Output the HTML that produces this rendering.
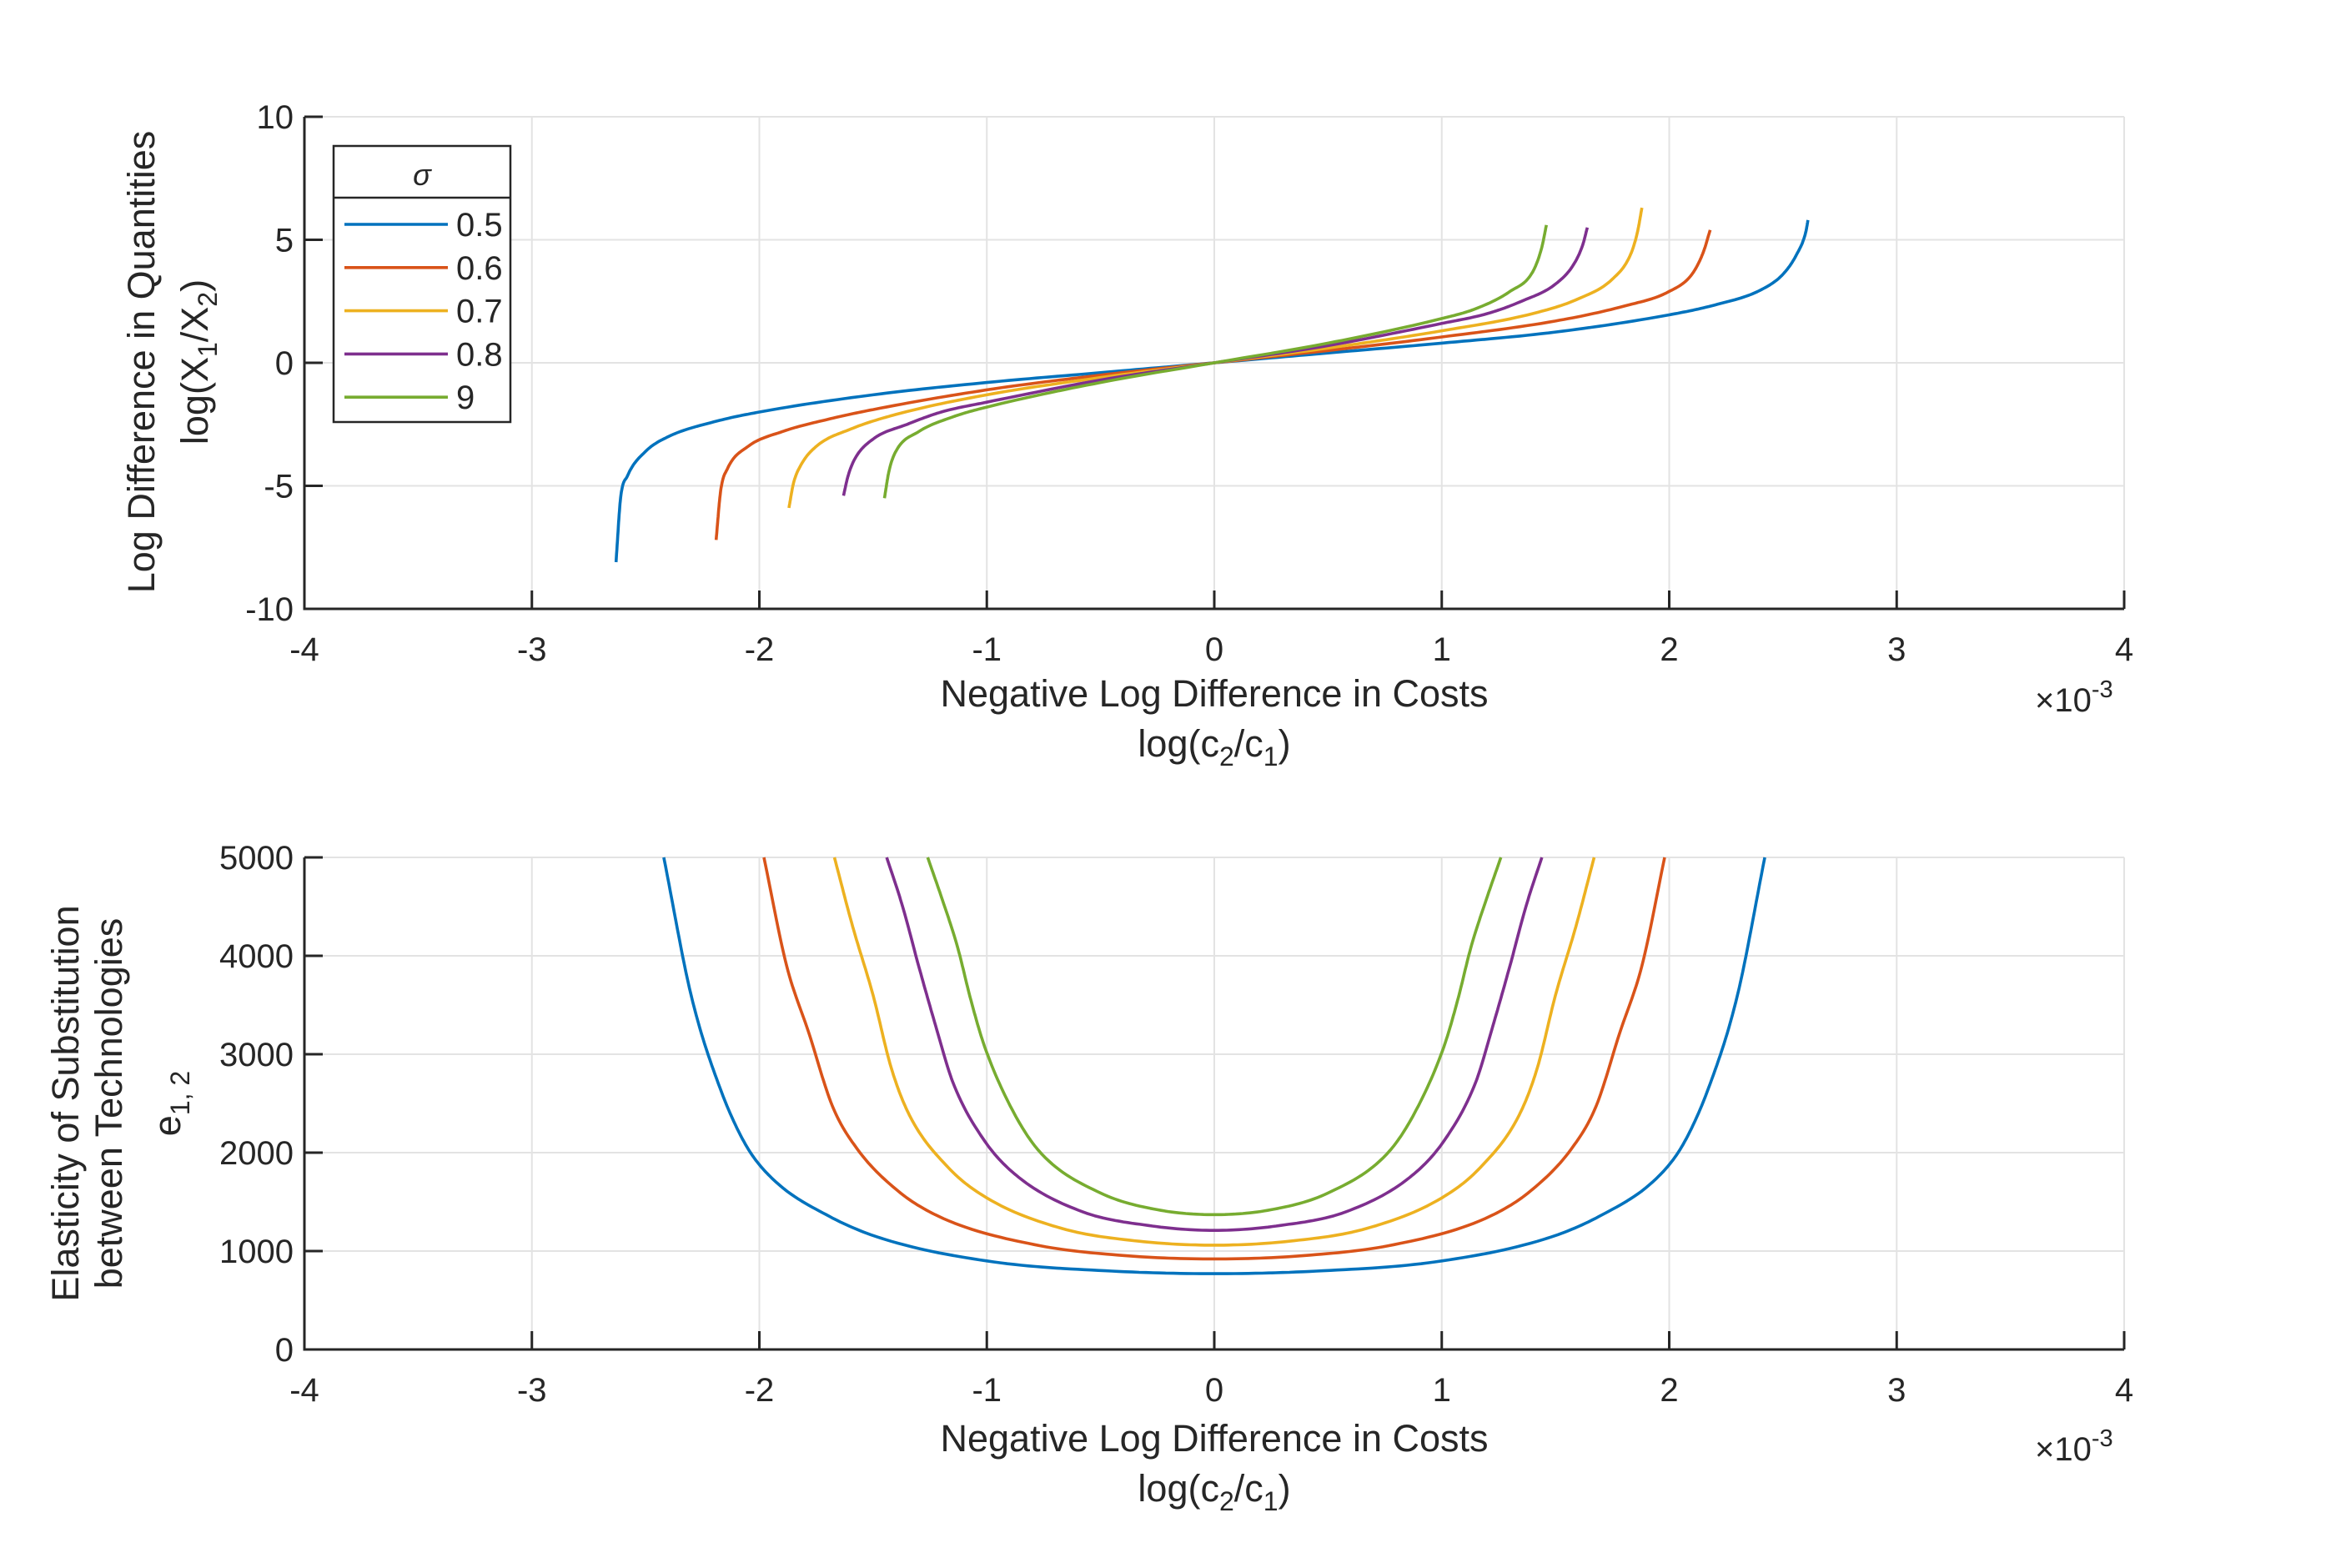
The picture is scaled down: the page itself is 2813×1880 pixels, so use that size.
<!DOCTYPE html>
<html><head><meta charset="utf-8"><style>
html,body{margin:0;padding:0;background:#fff}
svg text{font-family:"Liberation Sans",Arial,sans-serif;fill:#262626}
</style></head><body>
<svg id="fig" xmlns="http://www.w3.org/2000/svg" width="2813" height="1875" viewBox="0 0 2813 1875">
<rect width="2813" height="1875" fill="#fff"/>
<g id="top"></g>
<g id="bot"></g>
<text x="1456" y="847" font-size="45" text-anchor="middle">Negative Log Difference in Costs</text>
<text x="1456" y="907" font-size="45" text-anchor="middle">log(c<tspan font-size="32" dy="11">2</tspan><tspan dy="-11">/c</tspan><tspan font-size="32" dy="11">1</tspan><tspan dy="-11">)</tspan></text>
<text x="2440" y="853" font-size="40">×10<tspan font-size="29" dy="-17">-3</tspan></text>
<g transform="translate(185,434) rotate(-90)"><text x="0" y="0" font-size="45" text-anchor="middle">Log Difference in Quantities</text></g>
<g transform="translate(249,434) rotate(-90)"><text x="0" y="0" font-size="45" text-anchor="middle">log(X<tspan font-size="32" dy="11">1</tspan><tspan dy="-11">/X</tspan><tspan font-size="32" dy="11">2</tspan><tspan dy="-11">)</tspan></text></g>
<text x="1456" y="1740" font-size="45" text-anchor="middle">Negative Log Difference in Costs</text>
<text x="1456" y="1800" font-size="45" text-anchor="middle">log(c<tspan font-size="32" dy="11">2</tspan><tspan dy="-11">/c</tspan><tspan font-size="32" dy="11">1</tspan><tspan dy="-11">)</tspan></text>
<text x="2440" y="1751" font-size="40">×10<tspan font-size="29" dy="-17">-3</tspan></text>
<g transform="translate(94,1323) rotate(-90)"><text x="0" y="0" font-size="45" text-anchor="middle">Elasticity of Substitution</text></g>
<g transform="translate(146,1323) rotate(-90)"><text x="0" y="0" font-size="45" text-anchor="middle">between Technologies</text></g>
<g transform="translate(216,1323) rotate(-90)"><text x="0" y="0" font-size="45" text-anchor="middle">e<tspan font-size="32" dy="11">1, 2</tspan></text></g>
</svg>
<script>
const NS="http://www.w3.org/2000/svg";
const colors=["#0072BD","#D95319","#EDB120","#7E2F8E","#77AC30"];
const seriesNames=["0.5","0.6","0.7","0.8","9"];
const xTicks=[-4,-3,-2,-1,0,1,2,3,4];
const topYTicks=[-10,-5,0,5,10];
const botYTicks=[0,1000,2000,3000,4000,5000];

const topX=[
[-2.63,-2.61,-2.58,-2.5,-2.4,-2.2,-2.0,-1.5,-1.0,-0.5,0,0.5,1.0,1.5,2.0,2.2,2.4,2.5,2.56,2.6,2.61],
[-2.19,-2.17,-2.14,-2.05,-1.9,-1.7,-1.5,-1.0,-0.5,0,0.5,1.0,1.5,1.8,2.0,2.1,2.15,2.18],
[-1.87,-1.85,-1.82,-1.75,-1.6,-1.4,-1.0,-0.5,0,0.5,1.0,1.4,1.6,1.75,1.83,1.86,1.88],
[-1.63,-1.61,-1.58,-1.5,-1.35,-1.2,-1.0,-0.5,0,0.5,1.0,1.2,1.35,1.5,1.58,1.62,1.64],
[-1.45,-1.43,-1.4,-1.3,-1.15,-1.0,-0.5,0,0.5,1.0,1.15,1.3,1.4,1.44,1.46]];
const topY=[
[-8.1,-5.5,-4.6,-3.6,-3.0,-2.4,-2.0,-1.3,-0.8,-0.4,0,0.4,0.8,1.25,1.95,2.35,2.95,3.6,4.4,5.3,5.8],
[-7.2,-5.2,-4.3,-3.4,-2.8,-2.3,-1.9,-1.1,-0.5,0,0.5,1.05,1.7,2.3,2.9,3.6,4.5,5.4],
[-5.9,-4.9,-4.2,-3.4,-2.7,-2.1,-1.3,-0.6,0,0.6,1.3,2.0,2.6,3.4,4.4,5.3,6.3],
[-5.4,-4.6,-3.9,-3.1,-2.5,-2.0,-1.6,-0.7,0,0.7,1.6,2.0,2.5,3.2,4.0,4.8,5.5],
[-5.5,-4.4,-3.6,-2.8,-2.2,-1.8,-0.8,0,0.8,1.8,2.2,2.9,3.7,4.7,5.6]];

const botX=[
[-2.42,-2.3,-2.18,-2.06,-1.94,-1.69,-1.45,-0.97,-0.48,0,0.48,0.97,1.45,1.69,1.94,2.06,2.18,2.3,2.42],
[-1.98,-1.88,-1.78,-1.68,-1.58,-1.39,-1.19,-0.79,-0.4,0,0.4,0.79,1.19,1.39,1.58,1.68,1.78,1.88,1.98],
[-1.67,-1.59,-1.5,-1.42,-1.34,-1.17,-1.0,-0.67,-0.33,0,0.33,0.67,1.0,1.17,1.34,1.42,1.5,1.59,1.67],
[-1.44,-1.37,-1.3,-1.22,-1.15,-1.01,-0.86,-0.58,-0.29,0,0.29,0.58,0.86,1.01,1.15,1.22,1.3,1.37,1.44],
[-1.26,-1.2,-1.13,-1.07,-1.01,-0.88,-0.76,-0.5,-0.25,0,0.25,0.5,0.76,0.88,1.01,1.07,1.13,1.2,1.26]];
const botY=[
[5000,3600,2700,2080,1730,1350,1120,890,800,770,800,890,1120,1350,1730,2080,2700,3600,5000],
[5000,3900,3200,2480,2070,1610,1330,1065,955,920,955,1065,1330,1610,2070,2480,3200,3900,5000],
[5000,4300,3600,2860,2380,1850,1540,1230,1100,1060,1100,1230,1540,1850,2380,2860,3600,4300,5000],
[5000,4500,3900,3250,2720,2120,1750,1400,1260,1210,1260,1400,1750,2120,2720,3250,3900,4500,5000],
[5000,4600,4100,3550,3080,2400,1990,1590,1420,1370,1420,1590,1990,2400,3080,3550,4100,4600,5000]];

const L=365,R=2547;
function xs(v){return L+(v+4)/8*(R-L);}
function mk(tag,attrs,parent){const e=document.createElementNS(NS,tag);for(const k in attrs)e.setAttribute(k,attrs[k]);parent.appendChild(e);return e;}
function monoPath(X,Y,fx,fy){
  const n=X.length,d=[],m=new Array(n);
  for(let i=0;i<n-1;i++)d.push((Y[i+1]-Y[i])/(X[i+1]-X[i]));
  m[0]=d[0];m[n-1]=d[n-2];
  for(let i=1;i<n-1;i++){m[i]=(d[i-1]*d[i]<=0)?0:(d[i-1]+d[i])/2;}
  for(let i=0;i<n-1;i++){
    if(d[i]===0){m[i]=0;m[i+1]=0;continue;}
    const a=m[i]/d[i],b=m[i+1]/d[i],s=a*a+b*b;
    if(s>9){const t=3/Math.sqrt(s);m[i]=t*a*d[i];m[i+1]=t*b*d[i];}
  }
  let p="M"+fx(X[0]).toFixed(1)+","+fy(Y[0]).toFixed(1);
  for(let i=0;i<n-1;i++){
    const h=X[i+1]-X[i];
    for(let k=1;k<=16;k++){
      const t=k/16,t2=t*t,t3=t2*t;
      const y=(2*t3-3*t2+1)*Y[i]+(t3-2*t2+t)*h*m[i]+(-2*t3+3*t2)*Y[i+1]+(t3-t2)*h*m[i+1];
      p+="L"+fx(X[i]+t*h).toFixed(1)+","+fy(y).toFixed(1);
    }
  }
  return p;
}
function axes(g,T,B,yMin,yMax,yTicks,X,Y,prefix,xlabY){
  const ys=v=>B-(v-yMin)/(yMax-yMin)*(B-T);
  xTicks.forEach(t=>{const l=mk("line",{x1:xs(t),x2:xs(t),y1:T,y2:B,stroke:"#e3e3e3","stroke-width":2},g);
    
    });
  yTicks.forEach(t=>{const l=mk("line",{x1:L,x2:R,y1:ys(t),y2:ys(t),stroke:"#e3e3e3","stroke-width":2},g);
    
    });
  X.forEach((xa,i)=>{
    const p=mk("path",{d:monoPath(xa,Y[i],xs,ys),fill:"none",stroke:colors[i],"stroke-width":3.6,"stroke-linejoin":"round"},g);
    
    
  });
  const ax=mk("path",{d:`M${L},${T}V${B}H${R}`,fill:"none",stroke:"#262626","stroke-width":3},g);
  
  
  xTicks.forEach(t=>{
    mk("line",{x1:xs(t),x2:xs(t),y1:B,y2:B-22,stroke:"#262626","stroke-width":3},g);
    const tx=mk("text",{x:xs(t),y:xlabY,"font-size":40,"text-anchor":"middle"},g);tx.textContent=String(t);
    
    
  });
  yTicks.forEach(t=>{
    mk("line",{x1:L,x2:L+22,y1:ys(t),y2:ys(t),stroke:"#262626","stroke-width":3},g);
    const tx=mk("text",{x:L-13,y:ys(t)+14,"font-size":40,"text-anchor":"end"},g);tx.textContent=String(t);
    
    
  });
}
axes(document.getElementById("top"),140,730,-10,10,topYTicks,topX,topY,"top",792);
axes(document.getElementById("bot"),1028,1618,0,5000,botYTicks,botX,botY,"bottom",1680);

const lg=document.getElementById("top");
const leg=mk("g",{},lg);


mk("rect",{x:400,y:175,width:212,height:331,fill:"#fff",stroke:"#262626","stroke-width":2.5},leg);
mk("line",{x1:400,x2:612,y1:237,y2:237,stroke:"#262626","stroke-width":2.5},leg);
const ttl=mk("text",{x:506,y:222,"font-size":36,"font-style":"italic","text-anchor":"middle","font-family":"Liberation Serif, serif"},leg);
ttl.textContent="σ";


seriesNames.forEach((n,i)=>{
  const y=269+i*51.8;
  const ln=mk("line",{x1:413,x2:537,y1:y,y2:y,stroke:colors[i],"stroke-width":3.6},leg);
  
  
  const t=mk("text",{x:547,y:y+14,"font-size":40},leg);t.textContent=n;
  
  
});
</script>
</body></html>
